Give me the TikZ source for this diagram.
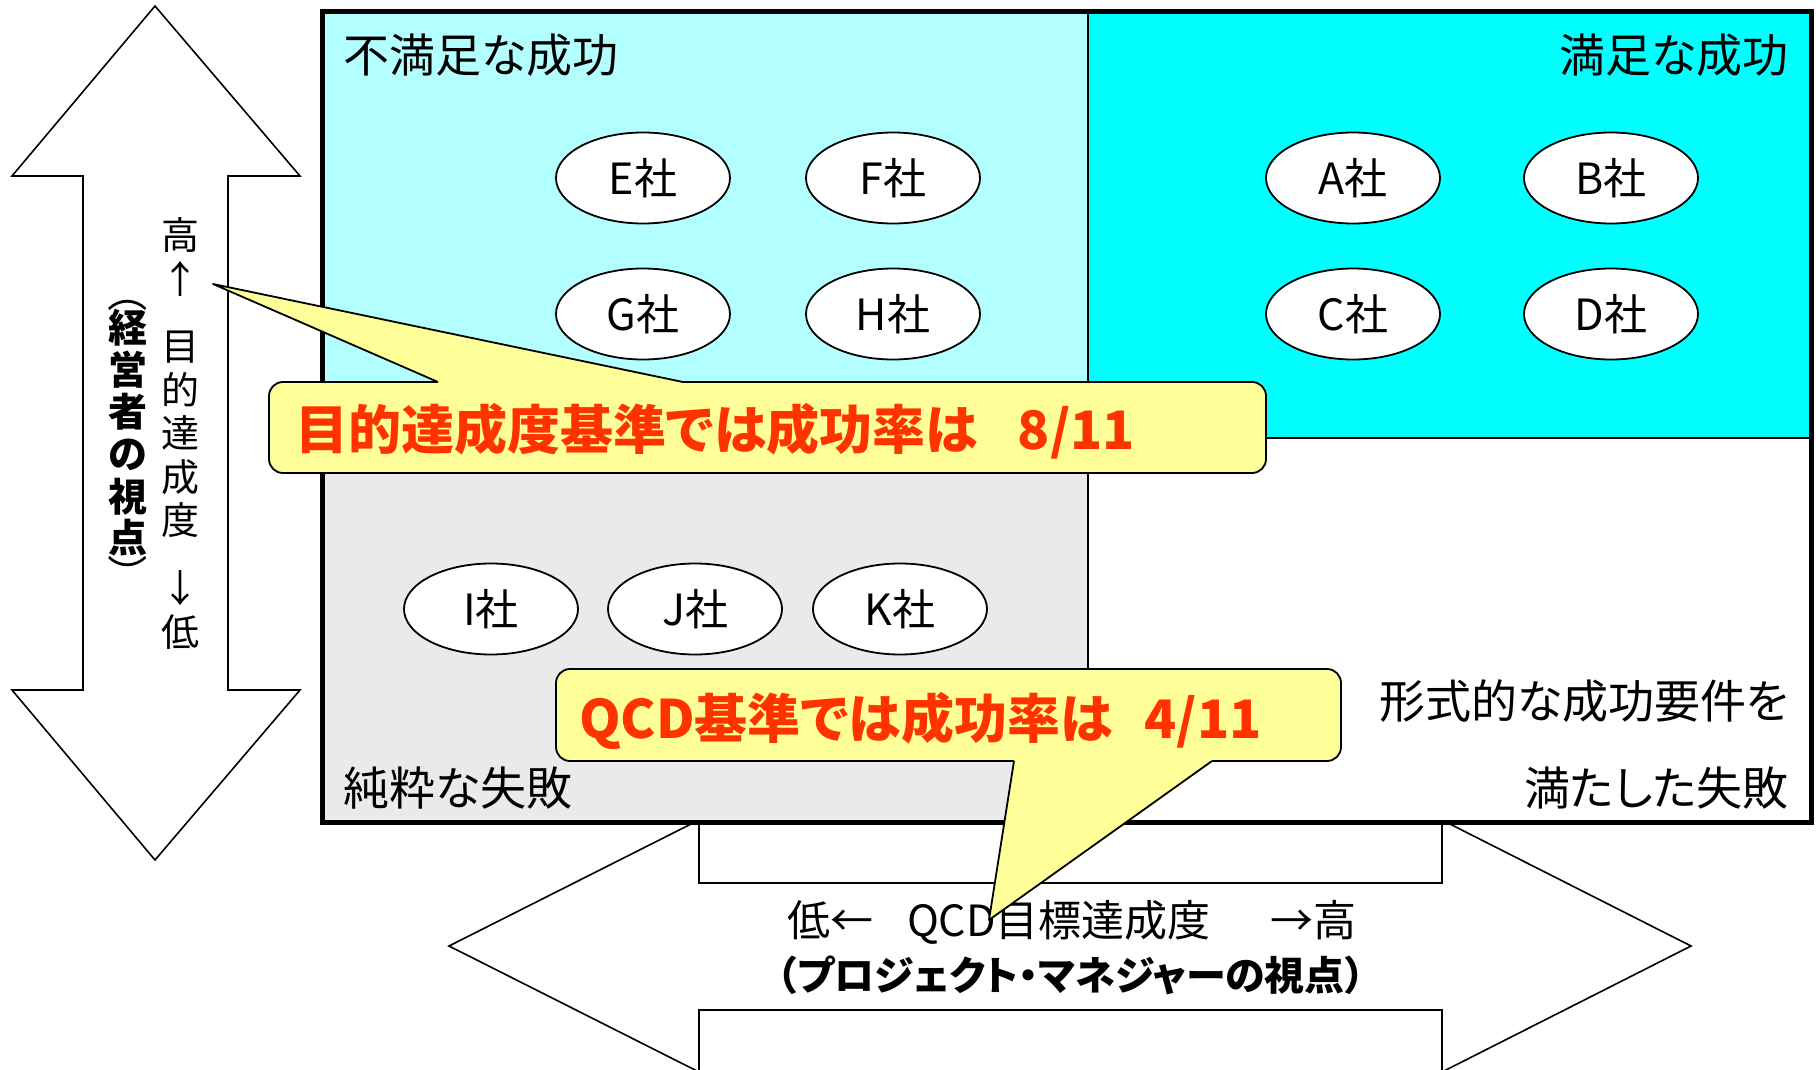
\documentclass[tikz,border=0pt]{standalone}
\usepackage{fontspec}
\setmainfont{Noto Sans CJK JP}[RawFeature=+palt]
\usetikzlibrary{shapes.geometric}
\definecolor{lcyan}{RGB}{179,255,255}
\definecolor{cyn}{RGB}{0,255,255}
\definecolor{lgray}{RGB}{234,234,234}
\definecolor{cyell}{RGB}{255,255,153}
\definecolor{cred}{RGB}{255,51,0}
\tikzset{
  bigarrow/.style={draw=black, fill=white, line width=1.6pt, line join=miter},
  company/.style={ellipse, draw=black, fill=white, line width=1.8pt, minimum width=174pt, minimum height=91pt, inner sep=0pt, font=\fontsize{43}{43}\selectfont},
  qlabel/.style={font=\fontsize{46}{46}\selectfont, inner sep=0pt},
  callout/.style={draw=black, fill=cyell, line width=1.8pt, rounded corners=14pt, inner sep=0pt},
  pointerfill/.style={fill=cyell},
  pointerline/.style={draw=black, line width=1.8pt, line join=round},
  calltext/.style={text=cred, font=\bfseries\fontsize{53}{53}\selectfont, inner sep=0pt, anchor=west},
  vchar/.style={font=\fontsize{38}{38}\selectfont, inner sep=0pt},
  vbold/.style={font=\bfseries\fontsize{39}{39}\selectfont, inner sep=0pt},
  vparen/.style={font=\fontsize{40}{40}\selectfont, inner sep=0pt, rotate=-90},
  htext/.style={font=\fontsize{43}{43}\selectfont, inner sep=0pt},
  hbold/.style={font=\bfseries\fontsize{40}{40}\selectfont, inner sep=0pt},
}
\begin{document}
\begin{tikzpicture}[x=1pt,y=-1pt]
\useasboundingbox (0,0) rectangle (1816,1070);
% vertical double arrow
\draw[bigarrow] (155,6) -- (300,176) -- (228,176) -- (228,690) -- (300,690) -- (155,860)
  -- (12,690) -- (83,690) -- (83,176) -- (12,176) -- cycle;
% horizontal double arrow
\draw[bigarrow] (449,946) -- (699,820) -- (699,883) -- (1442,883) -- (1442,820) -- (1691,946)
  -- (1442,1072) -- (1442,1010) -- (699,1010) -- (699,1072) -- cycle;
% quadrants
\fill[lcyan] (322,12) rectangle (1088,438);
\fill[cyn] (1088,12) rectangle (1811,438);
\fill[lgray] (322,438) rectangle (1088,822);
\fill[white] (1088,438) rectangle (1811,822);
\draw[line width=2pt] (1088,12) -- (1088,822);
\draw[line width=2pt] (322,438) -- (1811,438);
\draw[line width=5pt] (322,12) rectangle (1811,822);
% companies
\node[company] (E) at (643,178) {E社};
\node[company] (F) at (893,178) {F社};
\node[company] (G) at (643,314) {G社};
\node[company] (H) at (893,314) {H社};
\node[company] (A) at (1353,178) {A社};
\node[company] (B) at (1611,178) {B社};
\node[company] (C) at (1353,314) {C社};
\node[company] (D) at (1611,314) {D社};
\node[company] (I) at (491,609) {I社};
\node[company] (J) at (695,609) {J社};
\node[company] (K) at (900,609) {K社};
% quadrant labels
\node[qlabel, anchor=west] (q1) at (343,55) {不満足な成功};
\node[qlabel, anchor=east] (q2) at (1789,55) {満足な成功};
\node[qlabel, anchor=east] (q3) at (1789,701) {形式的な成功要件を};
\node[qlabel, anchor=east] (q4) at (1789,788) {満たした失敗};
\node[qlabel, anchor=west] (q5) at (343,788) {純粋な失敗};
% vertical axis text
\foreach \c/\yy [count=\i] in {高/235, ↑/279, 目/347, 的/390, 達/433, 成/477, 度/520, ↓/588, 低/632}
  \node[vchar] (v\i) at (180,\yy) {\c};
\foreach \c/\yy [count=\i] in {経/328, 営/370, 者/412, の/455, 視/497, 点/538}
  \node[vbold] (w\i) at (128,\yy) {\c};
\node[vparen] (wo) at (128,301) {（};
\node[vparen] (wc) at (128,566) {）};
% horizontal axis text
\node[htext] (h1) at (1072,922) {低←\hspace{34pt}QCD目標達成度\hspace{60pt}→高};
\node[hbold] (h2) at (1071,975) {（プロジェクト・マネジャーの視点）};
% callout 1
\node[callout, minimum width=997pt, minimum height=91pt] (co1) at (767.5,427.5) {};
\coordinate (t1) at (213,284);
\coordinate (a1) at (438,382);
\coordinate (b1) at (683,382);
\fill[pointerfill] (438,387) -- (a1) -- (t1) -- (b1) -- (683,387) -- cycle;
\draw[pointerline] (a1) -- (t1) -- (b1);
\node[calltext] (ct1) at (295,431) {目的達成度基準では成功率は\hspace{40pt}8/11};
% callout 2
\node[callout, minimum width=785pt, minimum height=92pt] (co2) at (948.5,715) {};
\coordinate (t2) at (989,920);
\coordinate (a2) at (1014,761);
\coordinate (b2) at (1212,761);
\fill[pointerfill] (1014,756) -- (a2) -- (t2) -- (b2) -- (1212,756) -- cycle;
\draw[pointerline] (a2) -- (t2) -- (b2);
\node[calltext] (ct2) at (579,721) {QCD基準では成功率は\hspace{32pt}4/11};
\end{tikzpicture}
\end{document}
